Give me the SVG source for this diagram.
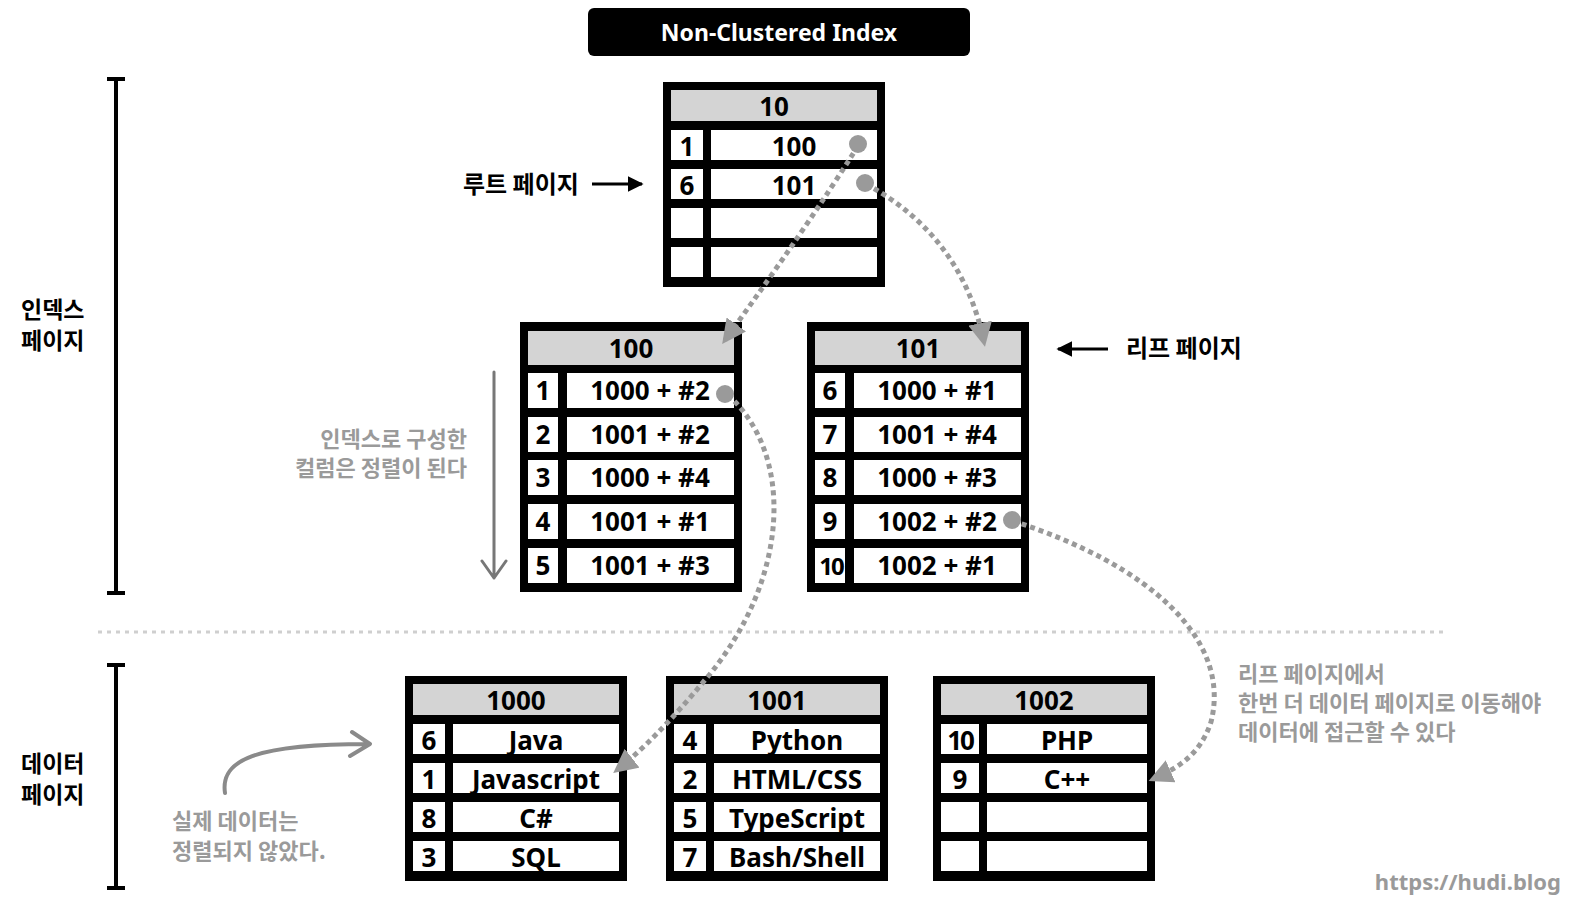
<svg xmlns="http://www.w3.org/2000/svg" width="1571" height="910" viewBox="0 0 1571 910">
<style>
.bg{fill:#000}
.hd{fill:#d4d4d4}
.cell{fill:#fff}
.t{font-family:"Noto Sans","Noto Sans CJK KR",sans-serif;font-weight:700;font-size:26px;fill:#000;text-anchor:middle;dominant-baseline:central}
.kr{font-family:"Noto Sans CJK KR","Noto Sans",sans-serif;font-weight:700;font-size:24px;fill:#000}
.side{font-family:"Noto Sans CJK KR","Noto Sans",sans-serif;font-weight:700;font-size:23px;fill:#000}
.note{font-family:"Noto Sans CJK KR","Noto Sans",sans-serif;font-weight:700;font-size:22px;fill:#9a9a9a}
.conn{fill:none;stroke:#9a9a9a;stroke-width:5;stroke-dasharray:5 4}
.dot{fill:#9a9a9a}
.brk{stroke:#000;stroke-width:4;fill:none}
</style>
<defs>
<marker id="tri" viewBox="0 0 10 10" refX="8" refY="5" markerWidth="24" markerHeight="24" markerUnits="userSpaceOnUse" orient="auto">
<path d="M0,0 L10,5 L0,10 z" fill="#9a9a9a"/>
</marker>
<marker id="blk" viewBox="0 0 10 10" refX="9" refY="5" markerWidth="16" markerHeight="16" markerUnits="userSpaceOnUse" orient="auto">
<path d="M0,0 L10,5 L0,10 z" fill="#000"/>
</marker>
</defs>
<rect width="1571" height="910" fill="#fff"/>

<g id="title">
<rect x="588" y="8" width="382" height="48" rx="6" fill="#000"/>
<text x="779" y="32" class="t" style="fill:#fff;font-size:23px">Non-Clustered Index</text>
</g>

<g id="brackets">
<path class="brk" d="M116 78 V594 M107 79 H125 M107 593 H125"/>
<path class="brk" d="M116 664 V889 M107 665 H125 M107 888 H125"/>
<line x1="98" y1="632" x2="1448" y2="632" stroke="#cfcfcf" stroke-width="3" stroke-dasharray="4 5"/>
</g>

<g id="label-index"><text class="side" x="21" y="318"><tspan x="21">인덱스</tspan><tspan x="21" dy="31">페이지</tspan></text></g>
<g id="label-data"><text class="side" x="21" y="772"><tspan x="21">데이터</tspan><tspan x="21" dy="31">페이지</tspan></text></g>

<g id="label-root">
<text class="kr" x="463" y="193">루트 페이지</text>
<line x1="592" y1="184" x2="642" y2="184" stroke="#000" stroke-width="3" marker-end="url(#blk)"/>
</g>
<g id="label-leaf">
<line x1="1108" y1="349" x2="1058" y2="349" stroke="#000" stroke-width="3" marker-end="url(#blk)"/>
<text class="kr" x="1126" y="357">리프 페이지</text>
</g>

<g id="note-sorted">
<text class="note" x="467" y="447" text-anchor="end"><tspan x="467">인덱스로 구성한</tspan><tspan x="467" dy="29">컬럼은 정렬이 된다</tspan></text>
<path d="M494 372 V578 M482 561 L494 578 L506 561" fill="none" stroke="#777" stroke-width="3" stroke-linecap="round" stroke-linejoin="round"/>
</g>
<g id="note-unsorted">
<text class="note" x="172" y="829"><tspan x="172">실제 데이터는</tspan><tspan x="172" dy="30">정렬되지 않았다.</tspan></text>
<path d="M225 793 C220 760 255 744 368 744 M352 732 L370 744 L350 756" fill="none" stroke="#8a8a8a" stroke-width="4" stroke-linecap="round" stroke-linejoin="round"/>
</g>
<g id="note-leaf">
<text class="note" x="1238" y="682"><tspan x="1238">리프 페이지에서</tspan><tspan x="1238" dy="29">한번 더 데이터 페이지로 이동해야</tspan><tspan x="1238" dy="29">데이터에 접근할 수 있다</tspan></text>
</g>
<g id="watermark"><text class="note" x="1561" y="890" text-anchor="end" style="font-size:22px;font-family:'Noto Sans',sans-serif">https://hudi.blog</text></g>

<g id="root">
<rect class="bg" x="663" y="82" width="222" height="205"/>
<rect class="hd" x="671" y="90" width="206" height="31"/>
<rect class="cell" x="671" y="130" width="32" height="30"/><rect class="cell" x="711" y="130" width="166" height="30"/>
<rect class="cell" x="671" y="169" width="32" height="30"/><rect class="cell" x="711" y="169" width="166" height="30"/>
<rect class="cell" x="671" y="208" width="32" height="30"/><rect class="cell" x="711" y="208" width="166" height="30"/>
<rect class="cell" x="671" y="247" width="32" height="30"/><rect class="cell" x="711" y="247" width="166" height="30"/>
<text class="t" x="774" y="106">10</text>
<text class="t" x="687" y="146">1</text><text class="t" x="794" y="146">100</text>
<text class="t" x="687" y="185">6</text><text class="t" x="794" y="185">101</text>
</g>

<g id="leaf-100">
<rect class="bg" x="520" y="322" width="222" height="270"/>
<rect class="hd" x="528" y="331" width="206" height="34"/>
<rect class="cell" x="528" y="373" width="30" height="35"/><rect class="cell" x="567" y="373" width="167" height="35"/>
<rect class="cell" x="528" y="417" width="30" height="35"/><rect class="cell" x="567" y="417" width="167" height="35"/>
<rect class="cell" x="528" y="460" width="30" height="35"/><rect class="cell" x="567" y="460" width="167" height="35"/>
<rect class="cell" x="528" y="504" width="30" height="35"/><rect class="cell" x="567" y="504" width="167" height="35"/>
<rect class="cell" x="528" y="548" width="30" height="35"/><rect class="cell" x="567" y="548" width="167" height="35"/>
<text class="t" x="631" y="348">100</text>
<text class="t" x="543" y="390">1</text><text class="t" x="650" y="390">1000 + #2</text>
<text class="t" x="543" y="434">2</text><text class="t" x="650" y="434">1001 + #2</text>
<text class="t" x="543" y="477">3</text><text class="t" x="650" y="477">1000 + #4</text>
<text class="t" x="543" y="521">4</text><text class="t" x="650" y="521">1001 + #1</text>
<text class="t" x="543" y="565">5</text><text class="t" x="650" y="565">1001 + #3</text>
</g>

<g id="leaf-101">
<rect class="bg" x="807" y="322" width="222" height="270"/>
<rect class="hd" x="815" y="331" width="206" height="34"/>
<rect class="cell" x="815" y="373" width="30" height="35"/><rect class="cell" x="854" y="373" width="167" height="35"/>
<rect class="cell" x="815" y="417" width="30" height="35"/><rect class="cell" x="854" y="417" width="167" height="35"/>
<rect class="cell" x="815" y="460" width="30" height="35"/><rect class="cell" x="854" y="460" width="167" height="35"/>
<rect class="cell" x="815" y="504" width="30" height="35"/><rect class="cell" x="854" y="504" width="167" height="35"/>
<rect class="cell" x="815" y="548" width="30" height="35"/><rect class="cell" x="854" y="548" width="167" height="35"/>
<text class="t" x="918" y="348">101</text>
<text class="t" x="830" y="390">6</text><text class="t" x="937" y="390">1000 + #1</text>
<text class="t" x="830" y="434">7</text><text class="t" x="937" y="434">1001 + #4</text>
<text class="t" x="830" y="477">8</text><text class="t" x="937" y="477">1000 + #3</text>
<text class="t" x="830" y="521">9</text><text class="t" x="937" y="521">1002 + #2</text>
<text class="t" x="831" y="565" style="letter-spacing:-2px;font-size:24px">10</text><text class="t" x="937" y="565">1002 + #1</text>
</g>

<g id="data-1000">
<rect class="bg" x="405" y="676" width="222" height="205"/>
<rect class="hd" x="413" y="684" width="206" height="31"/>
<rect class="cell" x="413" y="724" width="32" height="30"/><rect class="cell" x="453" y="724" width="166" height="30"/>
<rect class="cell" x="413" y="763" width="32" height="30"/><rect class="cell" x="453" y="763" width="166" height="30"/>
<rect class="cell" x="413" y="802" width="32" height="30"/><rect class="cell" x="453" y="802" width="166" height="30"/>
<rect class="cell" x="413" y="841" width="32" height="30"/><rect class="cell" x="453" y="841" width="166" height="30"/>
<text class="t" x="516" y="700">1000</text>
<text class="t" x="429" y="740">6</text><text class="t" x="536" y="740">Java</text>
<text class="t" x="429" y="779">1</text><text class="t" x="536" y="779">Javascript</text>
<text class="t" x="429" y="818">8</text><text class="t" x="536" y="818">C#</text>
<text class="t" x="429" y="857">3</text><text class="t" x="536" y="857">SQL</text>
</g>

<g id="data-1001">
<rect class="bg" x="666" y="676" width="222" height="205"/>
<rect class="hd" x="674" y="684" width="206" height="31"/>
<rect class="cell" x="674" y="724" width="32" height="30"/><rect class="cell" x="714" y="724" width="166" height="30"/>
<rect class="cell" x="674" y="763" width="32" height="30"/><rect class="cell" x="714" y="763" width="166" height="30"/>
<rect class="cell" x="674" y="802" width="32" height="30"/><rect class="cell" x="714" y="802" width="166" height="30"/>
<rect class="cell" x="674" y="841" width="32" height="30"/><rect class="cell" x="714" y="841" width="166" height="30"/>
<text class="t" x="777" y="700">1001</text>
<text class="t" x="690" y="740">4</text><text class="t" x="797" y="740">Python</text>
<text class="t" x="690" y="779">2</text><text class="t" x="797" y="779">HTML/CSS</text>
<text class="t" x="690" y="818">5</text><text class="t" x="797" y="818">TypeScript</text>
<text class="t" x="690" y="857">7</text><text class="t" x="797" y="857">Bash/Shell</text>
</g>

<g id="data-1002">
<rect class="bg" x="933" y="676" width="222" height="205"/>
<rect class="hd" x="941" y="684" width="206" height="31"/>
<rect class="cell" x="941" y="724" width="38" height="30"/><rect class="cell" x="987" y="724" width="160" height="30"/>
<rect class="cell" x="941" y="763" width="38" height="30"/><rect class="cell" x="987" y="763" width="160" height="30"/>
<rect class="cell" x="941" y="802" width="38" height="30"/><rect class="cell" x="987" y="802" width="160" height="30"/>
<rect class="cell" x="941" y="841" width="38" height="30"/><rect class="cell" x="987" y="841" width="160" height="30"/>
<text class="t" x="1044" y="700">1002</text>
<text class="t" x="960" y="740" style="letter-spacing:-2px">10</text><text class="t" x="1067" y="740">PHP</text>
<text class="t" x="960" y="779">9</text><text class="t" x="1067" y="779">C++</text>
</g>

<g id="connectors">
<path class="conn" d="M858 146 Q805 230 725 340" marker-end="url(#tri)"/>
<path class="conn" d="M866 184 Q962 236 984 342" marker-end="url(#tri)"/>
<path class="conn" d="M728 395 C795 455 790 580 705 680 C670 722 640 752 617 770" marker-end="url(#tri)"/>
<path class="conn" d="M1013 521 C1150 565 1232 640 1211 722 C1200 755 1178 768 1153 779" marker-end="url(#tri)"/>
<circle class="dot" cx="858" cy="144" r="9"/>
<circle class="dot" cx="865" cy="183" r="9"/>
<circle class="dot" cx="725" cy="394" r="9"/>
<circle class="dot" cx="1012" cy="520" r="9"/>
</g>
</svg>
